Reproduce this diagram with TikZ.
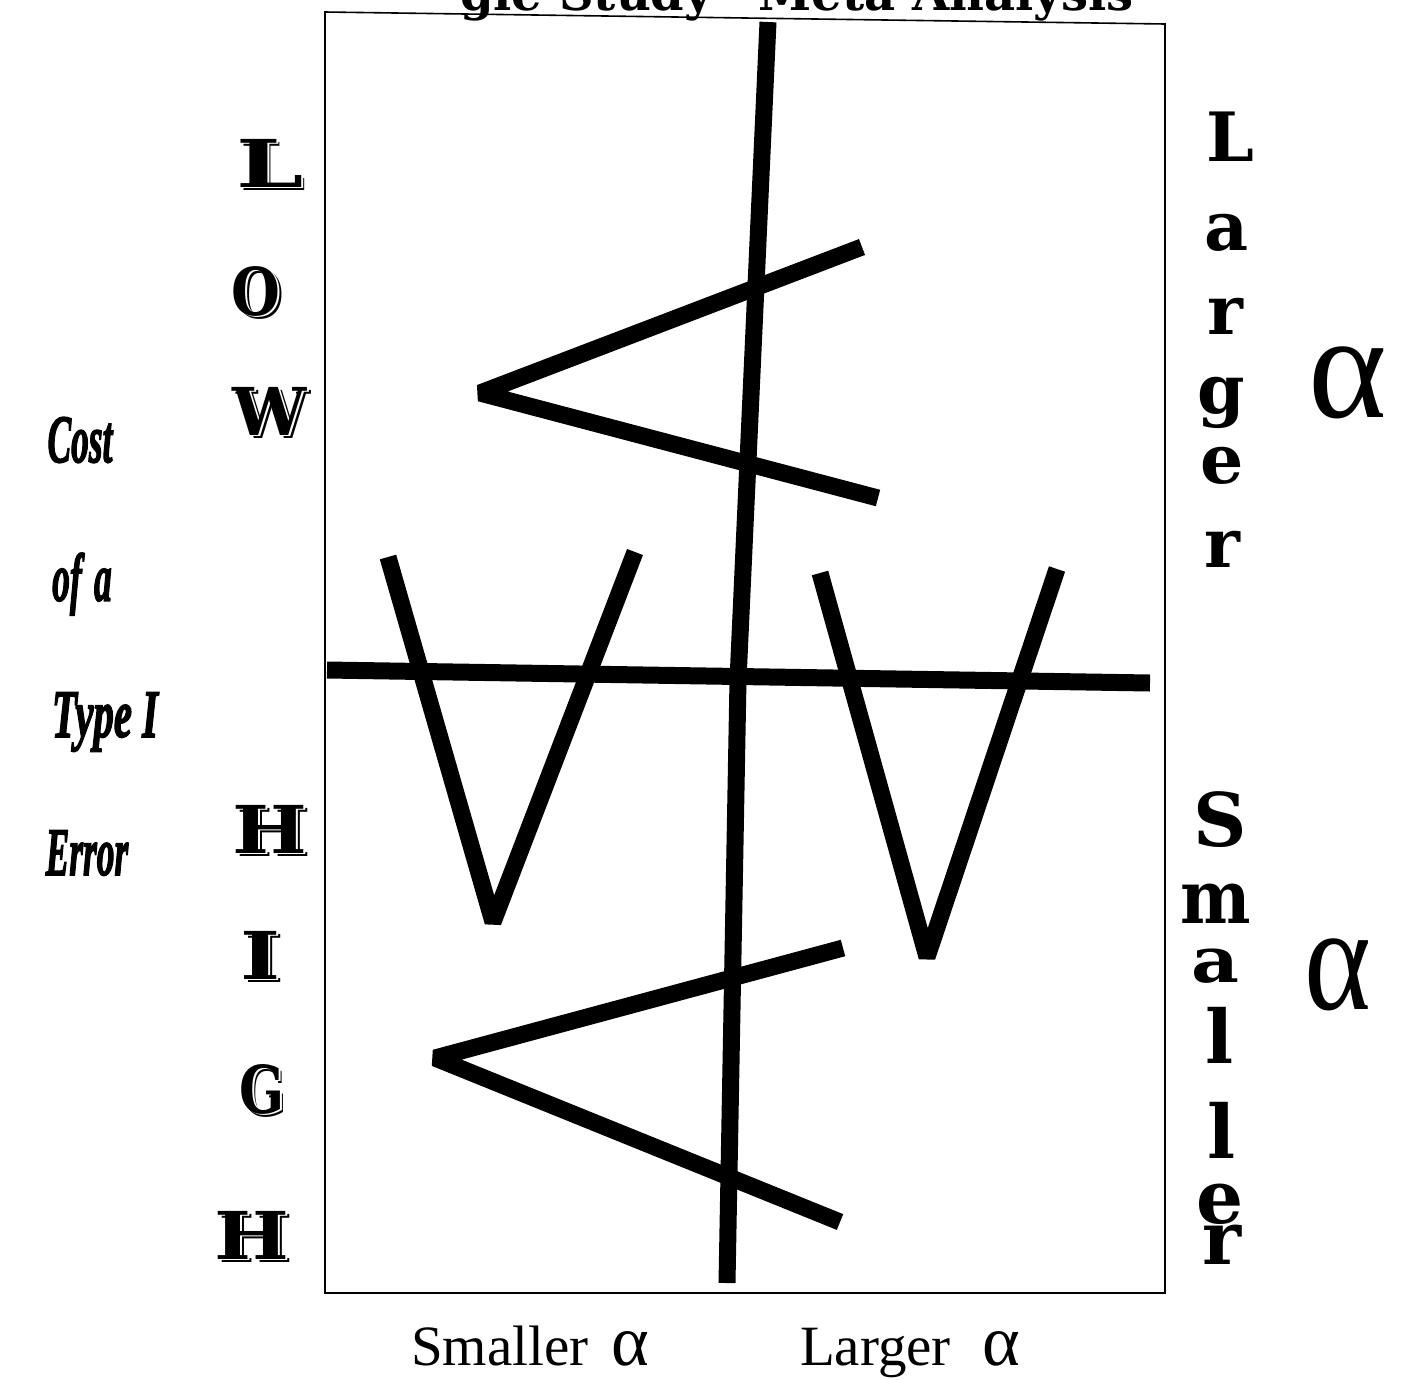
\documentclass[tikz,border=0pt]{standalone}
\usepackage{fontspec}
\usepackage{graphicx}
\setmainfont{Liberation Serif}
\newfontfamily\slabfont{DejaVu Serif}
\newfontfamily\greekfont{Liberation Serif}
\newfontfamily\costfont{Liberation Serif Bold Italic}[FakeBold=2.5]
\usetikzlibrary{calc}
\newcommand{\engraveletter}[4]{% name, position, letter, xscale
  \node[engr, text=black] at ($(#2)+(3.5,3.5)$) {\scalebox{#4}[1]{#3}};
  \node[engr, text=white] at ($(#2)+(1.8,1.8)$) {\scalebox{#4}[1]{#3}};
  \node[engr] (#1) at (#2) {\scalebox{#4}[1]{#3}};
}
\begin{document}
\begin{tikzpicture}[x=1pt,y=-1pt,
  bar/.style={line width=17pt, line cap=butt, line join=bevel},
  frameline/.style={line width=1.6pt},
  engr/.style={inner sep=0pt, font=\slabfont\bfseries\fontsize{66}{70}\selectfont},
  rletter/.style={inner sep=0pt, font=\slabfont\bfseries\fontsize{68}{70}\selectfont},
  sletter/.style={inner sep=0pt, font=\slabfont\bfseries\fontsize{74}{80}\selectfont},
  bigalpha/.style={inner sep=0pt, font=\greekfont\fontsize{150}{160}\selectfont},
  costlabel/.style={inner sep=0pt, font=\costfont\fontsize{68}{72}\selectfont},
  axislabel/.style={inner sep=0pt, anchor=base, font=\fontsize{57}{60}\selectfont}]
\useasboundingbox (0,0) rectangle (1402,1379);

% cut-off title
\node[anchor=base, inner sep=0pt, font=\slabfont\bfseries\fontsize{48}{50}\selectfont] (title) at (797,10) {gle Study” Meta Analysis};

% frame
\draw[frameline] (325,12) -- (1165,24) -- (1165,1293) -- (325,1293) -- cycle;

% thick strokes
\draw[bar] (768,22) -- (738,680) -- (727,1283);
\draw[bar] (327,670) -- (1150,683);
\draw[bar] (862,247) -- (480,393) -- (878,498);
\draw[bar] (843,948) -- (435,1058) -- (840,1222);
\draw[bar] (388,557) -- (493,922) -- (635,552);
\draw[bar] (820,573) -- (927,957) -- (1057,569);

% LOW / HIGH engraved letters
\engraveletter{lowL}{270,163}{L}{1.45}
\engraveletter{lowO}{256,291}{O}{0.85}
\engraveletter{lowW}{270,411}{W}{1.0}
\engraveletter{highH1}{270,829}{H}{1.2}
\engraveletter{highI}{261,955}{I}{1.3}
\engraveletter{highG}{262,1089}{G}{0.8}
\engraveletter{highH2}{252,1235}{H}{1.2}

% Cost of a Type I Error
\node[costlabel] (cost) at (80,440) {\scalebox{0.52}[1]{Cost}};
\node[costlabel] (ofa) at (82,584) {\scalebox{0.52}[1]{of\hspace{0.35em}a}};
\node[costlabel] (type) at (105,722) {\scalebox{0.6}[1]{Type I}};
\node[costlabel] (error) at (87,853) {\scalebox{0.52}[1]{Error}};

% Larger (right)
\node[rletter] (rL) at (1230,137) {L};
\node[rletter] (ra) at (1227,233) {a};
\node[rletter] (rr1) at (1225,316) {r};
\node[rletter] (rg) at (1221,403) {g};
\node[rletter] (re) at (1222,466) {e};
\node[rletter] (rr2) at (1222,549) {r};
\node[bigalpha] (alphaL) at (1348,383) {α};

% Smaller (right)
\node[sletter] (sS) at (1220,820) {S};
\node[sletter] (sm) at (1216,904) {\scalebox{0.9}[1]{m}};
\node[sletter] (sa) at (1215,966) {\scalebox{1}[0.85]{a}};
\node[sletter] (sl1) at (1220,1035) {l};
\node[sletter] (sl2) at (1222,1130) {l};
\node[sletter] (se) at (1220,1204) {e};
\node[sletter] (sr) at (1222,1245) {r};
\node[bigalpha] (alphaS) at (1338,975) {\scalebox{0.85}[1]{α}};

% bottom axis labels
\node[axislabel] (smallerlab) at (530,1365) {Smaller\hspace{0.4em}{\greekfont\fontsize{72}{72}\selectfont α}};
\node[axislabel] (largerlab) at (910,1365) {Larger\hspace{0.55em}{\greekfont\fontsize{72}{72}\selectfont α}};
\end{tikzpicture}
\end{document}
